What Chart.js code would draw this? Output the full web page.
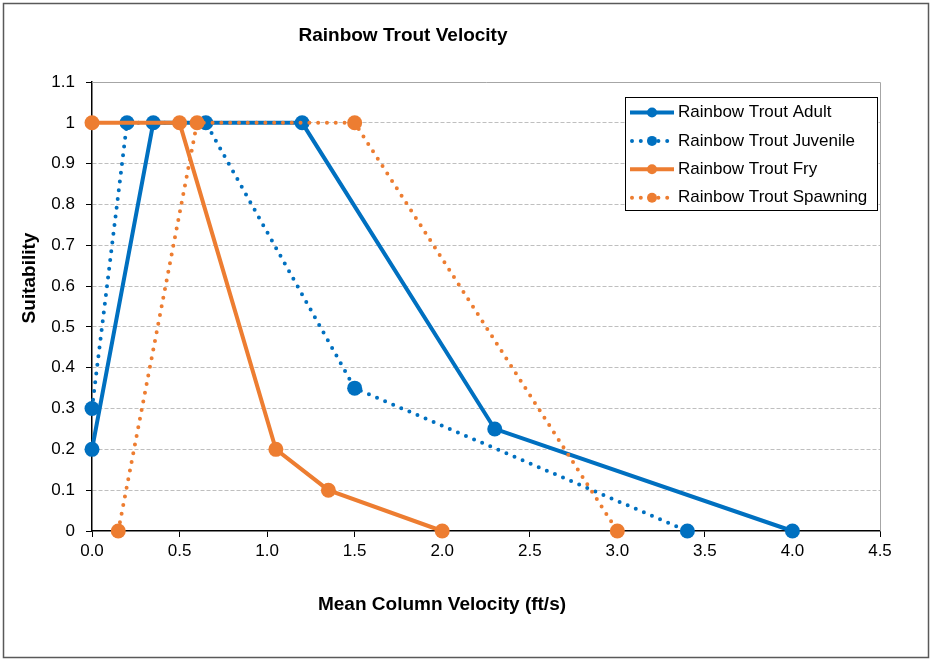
<!DOCTYPE html>
<html>
<head>
<meta charset="utf-8">
<script src="https://cdn.jsdelivr.net/npm/chart.js@4/dist/chart.umd.min.js"></script>
<style>
  html, body { margin: 0; padding: 0; background: #ffffff; }
  #wrap { width: 932px; height: 660px; position: relative; }
</style>
</head>
<body>
<div id="wrap"><canvas id="c" width="932" height="660"></canvas></div>
<script>
// ---- Data ----
const chartTitle = "Rainbow Trout Velocity";
const xAxisTitle = "Mean Column Velocity (ft/s)";
const yAxisTitle = "Suitability";

const seriesNames = ["Rainbow Trout Adult", "Rainbow Trout Juvenile", "Rainbow Trout Fry", "Rainbow Trout Spawning"];

const adultVelocity = [0, 0.35, 1.2, 2.3, 4.0];
const adultSuitability = [0.2, 1, 1, 0.25, 0];

const juvenileVelocity = [0, 0.2, 0.65, 1.5, 3.4];
const juvenileSuitability = [0.3, 1, 1, 0.35, 0];

const fryVelocity = [0, 0.5, 1.05, 1.35, 2.0];
const frySuitability = [1, 1, 0.2, 0.1, 0];

const spawningVelocity = [0.15, 0.6, 1.5, 3.0];
const spawningSuitability = [0, 1, 1, 0];

const xTickValues = [0, 0.5, 1, 1.5, 2, 2.5, 3, 3.5, 4, 4.5];
const yTickValues = [0, 0.1, 0.2, 0.3, 0.4, 0.5, 0.6, 0.7, 0.8, 0.9, 1, 1.1];

const BLUE = "#0070C0";
const ORANGE = "#ED7D31";
const FONT = "'Liberation Sans', Arial, sans-serif";

function toPoints(xs, ys) { return xs.map((x, i) => ({ x: x, y: ys[i] })); }

function makeDataset(name, xs, ys, color, dotted, drawOrder) {
  return {
    label: name,
    data: toPoints(xs, ys),
    borderColor: color,
    backgroundColor: color,
    borderWidth: 4,
    borderDash: dotted ? [0, 8.8] : [],
    borderCapStyle: dotted ? "round" : "butt",
    pointRadius: 7.5,
    pointHoverRadius: 7.5,
    pointBorderWidth: 0,
    pointBackgroundColor: color,
    tension: 0,
    fill: false,
    clip: false,
    order: drawOrder,
    _dotted: dotted
  };
}

// later series drawn on top (as in the reference)
const datasets = [
  makeDataset(seriesNames[0], adultVelocity, adultSuitability, BLUE, false, 4),
  makeDataset(seriesNames[1], juvenileVelocity, juvenileSuitability, BLUE, true, 3),
  makeDataset(seriesNames[2], fryVelocity, frySuitability, ORANGE, false, 2),
  makeDataset(seriesNames[3], spawningVelocity, spawningSuitability, ORANGE, true, 1)
];

// ---- Plugin: frame, plot border, titles, legend ----
const decorPlugin = {
  id: "decor",
  beforeDraw(chart) {
    const ctx = chart.ctx;
    ctx.save();
    ctx.fillStyle = "#ffffff";
    ctx.fillRect(0, 0, chart.width, chart.height);
    ctx.restore();
  },
  beforeDatasetsDraw(chart) {
    const ctx = chart.ctx;
    const a = chart.chartArea;
    ctx.save();
    ctx.strokeStyle = "#a6a6a6";
    ctx.lineWidth = 1;
    ctx.beginPath();
    ctx.moveTo(a.left, a.top + 0.5);
    ctx.lineTo(a.right + 0.5, a.top + 0.5);
    ctx.lineTo(a.right + 0.5, a.bottom);
    ctx.stroke();
    ctx.restore();
  },
  afterDraw(chart) {
    const ctx = chart.ctx;
    const a = chart.chartArea;
    ctx.save();
    // outer frame
    ctx.strokeStyle = "#595959";
    ctx.lineWidth = 1.5;
    ctx.strokeRect(3.5, 3.5, chart.width - 7, chart.height - 6);

    // titles
    ctx.fillStyle = "#000000";
    ctx.font = "bold 19px " + FONT;
    ctx.textAlign = "center";
    ctx.textBaseline = "middle";
    ctx.fillText(chartTitle, a.left + 311, a.top - 46);
    ctx.fillText(xAxisTitle, a.left + 350, a.bottom + 74);
    ctx.save();
    ctx.translate(a.left - 62, a.top + 196);
    ctx.rotate(-Math.PI / 2);
    ctx.fillText(yAxisTitle, 0, 0);
    ctx.restore();

    // legend
    const bx = a.right - 255, by = a.top + 15, bw = 252, bh = 113;
    ctx.fillStyle = "#ffffff";
    ctx.fillRect(bx, by, bw, bh);
    ctx.strokeStyle = "#000000";
    ctx.lineWidth = 1;
    ctx.strokeRect(bx + 0.5, by + 0.5, bw, bh);
    ctx.font = "17px " + FONT;
    ctx.textAlign = "left";
    ctx.textBaseline = "middle";
    chart.data.datasets.forEach((ds, i) => {
      const yy = by + 15.5 + i * 28.4;
      const x0 = bx + 5, x1 = bx + 49;
      ctx.save();
      ctx.strokeStyle = ds.borderColor;
      ctx.lineWidth = 4;
      if (ds._dotted) {
        ctx.setLineDash([0, 8.8]);
        ctx.lineCap = "round";
      } else {
        ctx.lineCap = "butt";
      }
      ctx.beginPath();
      ctx.moveTo(x0 + (ds._dotted ? 2 : 0), yy);
      ctx.lineTo(x1, yy);
      ctx.stroke();
      ctx.setLineDash([]);
      ctx.fillStyle = ds.borderColor;
      ctx.beginPath();
      ctx.arc((x0 + x1) / 2, yy, 5, 0, Math.PI * 2);
      ctx.fill();
      ctx.restore();
      ctx.fillStyle = "#000000";
      ctx.fillText(ds.label, x1 + 4, yy);
    });
    ctx.restore();
  }
};

new Chart(document.getElementById("c"), {
  type: "line",
  data: { datasets: datasets },
  options: {
    responsive: false,
    animation: false,
    devicePixelRatio: 1,
    layout: { padding: { top: 82, right: 52, left: 0, bottom: 0 } },
    plugins: {
      legend: { display: false },
      title: { display: false },
      tooltip: { enabled: false }
    },
    scales: {
      x: {
        type: "linear",
        min: 0,
        max: 4.5,
        afterBuildTicks(scale) { scale.ticks = xTickValues.map(v => ({ value: v })); },
        afterFit(scale) { scale.height = 129; },
        ticks: {
          color: "#000000",
          font: { family: FONT, size: 17 },
          padding: 4,
          maxRotation: 0,
          autoSkip: false,
          callback: (v) => Number(v).toFixed(1)
        },
        grid: {
          drawOnChartArea: false,
          drawTicks: true,
          tickLength: 6,
          tickColor: "#000000",
          tickWidth: 1
        },
        border: { display: true, color: "#000000", width: 1.5 }
      },
      y: {
        type: "linear",
        min: 0,
        max: 1.1,
        afterBuildTicks(scale) { scale.ticks = yTickValues.map(v => ({ value: v })); },
        afterFit(scale) { scale.width = 92; },
        ticks: {
          color: "#000000",
          font: { family: FONT, size: 17 },
          padding: 11,
          autoSkip: false,
          callback: (v) => String(Math.round(v * 10) / 10)
        },
        grid: {
          drawOnChartArea: true,
          drawTicks: true,
          tickLength: 6,
          tickColor: "#000000",
          tickWidth: 1,
          lineWidth: 1,
          color: (ctx) => (ctx.tick && (Math.abs(ctx.tick.value - 1.1) < 1e-6 || ctx.tick.value === 0)) ? "rgba(0,0,0,0)" : "#bfbfbf"
        },
        border: { display: true, color: "#000000", width: 1.5, dash: [4, 2] }
      }
    }
  },
  plugins: [decorPlugin]
});
</script>
</body>
</html>
